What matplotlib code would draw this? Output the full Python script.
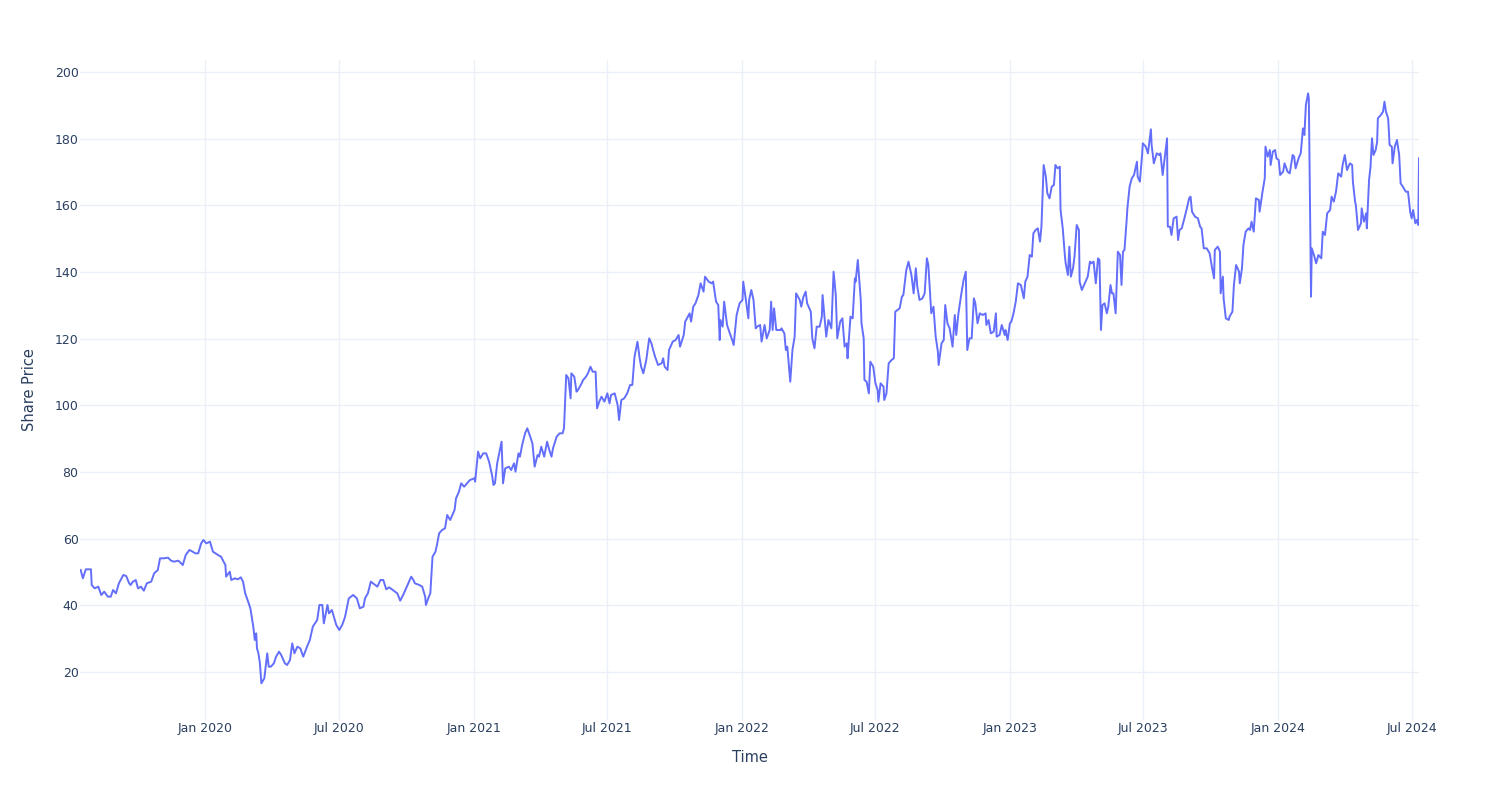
import pandas as pd
from matplotlib import pyplot as plt
import matplotlib.dates as mdates

# days since the first trading day shown
start_date = "2019-07-15"
days = [
    1, 4, 8, 15, 16, 20, 25, 29, 33, 38, 42, 45, 49, 53, 59, 63, 67, 69, 72, 76,
    79, 83, 87, 91, 97, 101, 106, 109, 114, 120, 124, 128, 134, 140, 144, 149,
    151, 157, 161, 165, 168, 172, 177, 181, 188, 192, 198, 199, 204, 206, 211,
    215, 219, 222, 225, 229, 232, 236, 238, 240, 241, 243, 245, 247, 251, 255,
    257, 260, 264, 267, 271, 274, 279, 282, 286, 289, 292, 296, 300, 304, 309,
    313, 317, 323, 326, 330, 332, 337, 339, 343, 345, 349, 353, 357, 361, 366,
    372, 377, 381, 386, 388, 392, 396, 399, 405, 409, 413, 417, 421, 426, 432,
    436, 440, 446, 451, 454, 456, 462, 466, 470, 471, 475, 477, 480, 484, 486,
    489, 493, 497, 500, 504, 510, 512, 516, 519, 523, 527, 531, 537, 538, 542,
    545, 549, 553, 557, 561, 563, 565, 568, 574, 576, 579, 584, 587, 591, 593,
    597, 599, 602, 606, 609, 613, 616, 619, 623, 625, 628, 632, 636, 639, 642,
    644, 649, 653, 657, 659, 662, 665, 668, 669, 673, 676, 678, 683, 685, 689,
    692, 695, 698, 702, 704, 707, 710, 714, 718, 721, 723, 728, 732, 734, 737,
    741, 745, 749, 752, 755, 759, 762, 764, 767, 771, 775, 778, 781, 783, 787,
    792, 794, 796, 800, 802, 807, 811, 815, 817, 822, 824, 830, 832, 835, 838,
    842, 845, 849, 851, 856, 860, 862, 866, 869, 871, 872, 875, 877, 881, 884,
    888, 890, 894, 898, 902, 903, 906, 910, 911, 914, 917, 920, 922, 926, 928,
    932, 935, 939, 941, 943, 945, 948, 954, 955, 959, 961, 963, 967, 970, 973,
    975, 980, 982, 985, 988, 990, 995, 997, 1000, 1003, 1007, 1010, 1011, 1014,
    1016, 1019, 1023, 1026, 1029, 1031, 1035, 1038, 1041, 1044, 1045, 1049,
    1052, 1055, 1056, 1059, 1063, 1064, 1067, 1068, 1071, 1074, 1076, 1080,
    1083, 1086, 1087, 1090, 1094, 1095, 1098, 1101, 1105, 1108, 1110, 1113,
    1116, 1119, 1121, 1125, 1128, 1132, 1135, 1138, 1140, 1143, 1147, 1150,
    1153, 1155, 1159, 1162, 1165, 1168, 1169, 1173, 1176, 1178, 1181, 1184,
    1188, 1191, 1193, 1196, 1200, 1203, 1206, 1208, 1211, 1214, 1217, 1219,
    1222, 1225, 1229, 1233, 1234, 1237, 1240, 1244, 1247, 1248, 1252, 1255,
    1259, 1260, 1263, 1266, 1268, 1271, 1274, 1277, 1281, 1285, 1287, 1290,
    1293, 1296, 1298, 1301, 1304, 1307, 1309, 1312, 1315, 1317, 1320, 1323,
    1326, 1328, 1331, 1334, 1335, 1338, 1341, 1342, 1345, 1347, 1349, 1352,
    1354, 1357, 1360, 1361, 1364, 1368, 1372, 1375, 1377, 1380, 1383, 1386,
    1388, 1390, 1392, 1395, 1398, 1400, 1403, 1405, 1407, 1410, 1413, 1416,
    1418, 1420, 1422, 1425, 1426, 1429, 1432, 1435, 1439, 1440, 1443, 1446,
    1447, 1451, 1454, 1458, 1459, 1462, 1466, 1469, 1471, 1474, 1477, 1480,
    1481, 1484, 1486, 1489, 1493, 1495, 1497, 1500, 1503, 1507, 1510, 1512,
    1514, 1518, 1522, 1525, 1527, 1530, 1534, 1538, 1541, 1544, 1545, 1549,
    1552, 1553, 1556, 1557, 1560, 1564, 1565, 1569, 1571, 1574, 1578, 1579,
    1582, 1584, 1587, 1591, 1593, 1595, 1598, 1601, 1605, 1606, 1610, 1613,
    1614, 1617, 1620, 1621, 1624, 1627, 1629, 1632, 1634, 1638, 1640, 1644,
    1647, 1651, 1653, 1655, 1659, 1662, 1665, 1667, 1669, 1672, 1673, 1676,
    1677, 1680, 1683, 1686, 1690, 1692, 1695, 1698, 1702, 1704, 1707, 1710,
    1713, 1717, 1719, 1722, 1725, 1729, 1732, 1733, 1736, 1737, 1740, 1744,
    1745, 1748, 1751, 1752, 1755, 1757, 1759, 1761, 1764, 1766, 1767, 1771,
    1774, 1776, 1778, 1781, 1783, 1786, 1787, 1790, 1793, 1796, 1798, 1801,
    1805, 1808, 1811, 1813, 1815, 1818, 1820, 1822, 1823,
]
price = [
    50.6, 48.1, 50.8, 50.8, 46.1, 45.1, 45.6, 43.1, 44.1, 42.6, 42.6, 44.6,
    43.6, 46.6, 49.1, 48.8, 46.6, 46.1, 47.1, 47.6, 45.1, 45.6, 44.4, 46.6,
    47.1, 49.6, 50.6, 54.1, 54.1, 54.3, 53.4, 53.1, 53.4, 52.1, 55.1, 56.6,
    56.4, 55.6, 55.6, 58.6, 59.6, 58.6, 59.1, 56.1, 55.1, 54.6, 52.1, 48.6,
    50.1, 47.6, 48.1, 47.8, 48.4, 47.1, 43.6, 41.1, 39.1, 33.6, 29.6, 31.6,
    27.1, 25.6, 22.6, 16.6, 18.1, 25.6, 21.6, 21.6, 22.6, 24.6, 26.1, 25.1,
    22.6, 22.1, 23.6, 28.6, 25.6, 27.6, 27.1, 24.6, 27.5, 29.6, 33.6, 35.6,
    40.1, 40.1, 34.6, 40.1, 37.6, 38.6, 37.1, 34.1, 32.6, 34.1, 36.6, 42.1,
    43.1, 42.1, 39.1, 39.6, 42.1, 43.6, 47.1, 46.6, 45.6, 47.6, 47.6, 44.8,
    45.4, 44.6, 43.6, 41.4, 43.1, 46.1, 48.6, 47.6, 46.6, 46.1, 45.6, 42.6,
    40.1, 42.6, 43.6, 54.6, 56.1, 58.1, 61.6, 62.6, 63.1, 67.1, 65.6, 68.6,
    72.1, 74.1, 76.6, 75.6, 76.6, 77.6, 78.1, 77.1, 86.1, 84.1, 85.6, 85.6,
    83.1, 79.1, 76.1, 76.6, 82.6, 89.1, 76.6, 81.1, 81.6, 80.6, 82.6, 80.1,
    85.6, 84.6, 88.1, 91.6, 93.1, 90.6, 88.6, 81.6, 85.1, 84.6, 87.6, 84.6,
    89.1, 86.6, 84.6, 87.1, 90.6, 91.6, 91.6, 93.1, 109.1, 108.1, 102.1, 109.6,
    108.6, 104.1, 104.6, 106.6, 107.6, 108.6, 109.8, 111.6, 110.1, 110.1, 99.1,
    101.1, 102.6, 101.1, 103.6, 100.6, 103.1, 103.6, 100.1, 95.6, 101.6, 102.1,
    103.6, 106.1, 106.1, 114.6, 119.1, 114.1, 111.6, 109.6, 113.6, 120.1,
    118.6, 116.1, 114.6, 112.1, 112.6, 114.1, 111.6, 110.6, 116.6, 119.1,
    119.6, 121.1, 117.6, 121.1, 125.1, 127.6, 125.1, 129.6, 130.6, 133.1,
    136.6, 134.1, 138.6, 137.1, 136.6, 137.1, 131.1, 130.1, 119.6, 125.6,
    123.6, 131.1, 124.1, 122.1, 119.6, 118.1, 127.1, 130.6, 131.6, 137.1,
    132.6, 126.1, 131.6, 134.6, 131.6, 123.1, 123.6, 124.1, 119.1, 124.1,
    120.1, 122.6, 131.1, 122.6, 129.1, 122.6, 122.6, 123.1, 121.6, 116.6,
    117.6, 107.1, 116.6, 120.6, 133.6, 131.6, 129.6, 132.6, 134.1, 130.6,
    128.1, 120.1, 117.1, 123.6, 123.6, 126.6, 133.1, 125.6, 120.6, 125.6,
    123.1, 140.1, 133.1, 120.1, 125.1, 126.1, 117.6, 118.6, 114.1, 126.6,
    126.1, 138.1, 137.1, 143.6, 131.6, 124.6, 120.1, 107.6, 107.1, 103.6,
    113.1, 111.6, 106.6, 104.6, 101.1, 106.6, 105.6, 101.6, 103.6, 112.6,
    113.6, 114.1, 128.1, 128.6, 129.1, 132.6, 133.1, 140.6, 143.1, 139.1,
    133.6, 141.1, 135.6, 131.6, 132.1, 133.6, 144.1, 142.1, 127.6, 129.6,
    120.6, 116.1, 112.1, 118.6, 119.6, 130.1, 124.6, 123.1, 117.6, 127.1,
    121.1, 127.6, 133.6, 137.6, 140.1, 116.6, 120.1, 120.1, 132.1, 130.6,
    124.6, 127.6, 127.1, 127.6, 124.1, 125.6, 121.6, 122.1, 127.6, 120.6,
    121.1, 124.1, 121.1, 122.6, 119.6, 124.6, 125.1, 127.6, 131.1, 136.6,
    136.1, 132.1, 137.1, 138.6, 145.1, 144.6, 151.6, 152.6, 153.1, 149.1,
    153.6, 172.1, 168.6, 163.6, 162.1, 165.6, 166.1, 172.1, 171.1, 171.6,
    158.6, 153.1, 144.6, 142.6, 139.1, 147.6, 138.6, 141.1, 144.6, 154.1,
    152.6, 137.1, 134.6, 136.6, 138.6, 143.1, 142.6, 143.1, 136.6, 144.1,
    143.6, 122.6, 130.1, 130.6, 127.6, 129.6, 136.1, 133.6, 133.6, 127.6,
    146.1, 145.1, 136.1, 146.1, 146.6, 155.6, 159.1, 165.6, 168.1, 169.1,
    173.1, 168.6, 167.1, 175.1, 178.6, 177.6, 175.6, 182.8, 178.1, 172.6,
    175.6, 175.1, 175.6, 169.1, 174.6, 180.1, 153.6, 153.6, 151.1, 156.1,
    156.6, 149.6, 152.6, 153.1, 155.6, 159.1, 162.1, 162.6, 158.1, 156.6,
    156.1, 153.6, 153.1, 147.1, 147.1, 145.6, 141.6, 138.1, 146.6, 147.6,
    146.1, 133.6, 138.6, 132.1, 126.1, 125.6, 126.6, 128.1, 136.1, 142.1,
    140.1, 136.6, 141.1, 148.1, 152.1, 153.1, 152.6, 155.1, 152.1, 162.1,
    161.6, 158.1, 164.1, 168.1, 177.6, 174.6, 176.6, 172.1, 176.1, 176.6,
    174.1, 173.6, 169.1, 170.1, 172.6, 170.1, 169.6, 175.1, 174.6, 171.1,
    174.1, 175.6, 183.1, 181.1, 190.1, 193.6, 192.1, 132.6, 147.1, 145.1,
    142.6, 145.1, 144.1, 152.1, 151.1, 157.6, 158.6, 162.6, 161.1, 164.1,
    169.6, 168.6, 172.1, 175.1, 170.6, 172.6, 172.1, 167.1, 161.1, 160.1,
    152.6, 154.6, 159.1, 155.1, 157.6, 153.1, 167.6, 171.6, 180.1, 175.1,
    176.6, 179.1, 186.1, 187.1, 188.1, 191.1, 188.1, 186.1, 178.1, 177.6,
    172.6, 177.6, 179.6, 175.1, 166.6, 165.6, 164.1, 164.1, 158.1, 156.1,
    158.6, 154.6, 155.6, 154.1, 174.1,
]

tick_dates = ["2020-01-01", "2020-07-01", "2021-01-01", "2021-07-01", "2022-01-01",
              "2022-07-01", "2023-01-01", "2023-07-01", "2024-01-01", "2024-07-01"]
y_ticks = [20, 40, 60, 80, 100, 120, 140, 160, 180, 200]

plt.rcParams["font.family"] = ["DejaVu Sans"]

dates = pd.Timestamp(start_date) + pd.to_timedelta(days, unit="D")
text_color = "#2a3f5f"
grid_color = "#ebf0f8"

fig = plt.figure(figsize=(15, 8), dpi=100)
ax = fig.add_axes([0.0533, 0.1, 0.8927, 0.825])

ax.plot(dates, price, color="#636efa", linewidth=1.4)

ax.set_xlim(dates[0] - pd.Timedelta(days=1), dates[-1])
ax.set_ylim(5.6, 203.6)

ax.set_xticks(pd.to_datetime(tick_dates))
ax.xaxis.set_major_formatter(mdates.DateFormatter("%b %Y"))
ax.set_yticks(y_ticks)

ax.grid(True, color=grid_color, linewidth=1)
ax.set_axisbelow(True)
for spine in ax.spines.values():
    spine.set_visible(False)
ax.tick_params(axis="both", length=0, labelsize=9, labelcolor=text_color)
ax.tick_params(axis="x", pad=1.5)
ax.tick_params(axis="y", pad=1)

ax.set_xlabel("Time", fontsize=10.5, color=text_color, labelpad=11)
ax.set_ylabel("Share Price", fontsize=10.5, color=text_color, labelpad=13)

fig.savefig("out.png", dpi=100, facecolor="white")
